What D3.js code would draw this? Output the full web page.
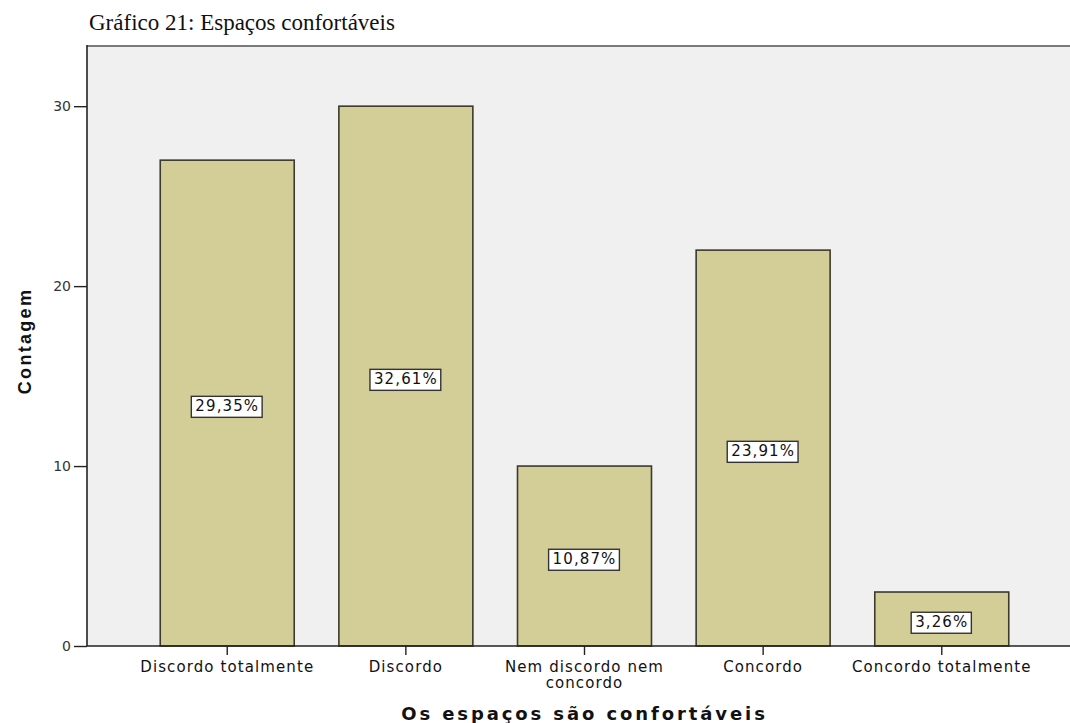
<!DOCTYPE html>
<html>
<head>
<meta charset="utf-8">
<script src="https://cdn.jsdelivr.net/npm/d3@7"></script>
<style>
  html, body { margin: 0; padding: 0; background: #ffffff; }
  svg { display: block; }
</style>
</head>
<body>
<svg id="chart" width="1070" height="723"></svg>
<script>
// Survey answers and their counts
const categories = ["Discordo totalmente", "Discordo", "Nem discordo nem concordo", "Concordo", "Concordo totalmente"];
const counts = [27, 30, 10, 22, 3];
const percentLabels = ["29,35%", "32,61%", "10,87%", "23,91%", "3,26%"];
const yTicks = [0, 10, 20, 30];

const svg = d3.select("#chart");
const plot = { left: 87, top: 45, right: 1082, bottom: 646 };

const x = d3.scaleBand()
  .domain(categories)
  .range([plot.left, plot.right])
  .paddingInner(0.25)
  .paddingOuter(0.41);

const y = d3.scaleLinear()
  .domain([0, 33.4])
  .range([plot.bottom, plot.top]);

// plot background
svg.append("rect")
  .attr("x", plot.left).attr("y", plot.top)
  .attr("width", plot.right - plot.left).attr("height", plot.bottom - plot.top)
  .attr("fill", "#f0f0f0");

// top frame line
svg.append("line")
  .attr("x1", plot.left).attr("x2", plot.right)
  .attr("y1", plot.top + 1).attr("y2", plot.top + 1)
  .attr("stroke", "#7a7a7a").attr("stroke-width", 2);

// bars
svg.append("g").selectAll("rect")
  .data(counts)
  .join("rect")
  .attr("x", (d, i) => x(categories[i]))
  .attr("y", d => y(d))
  .attr("width", x.bandwidth())
  .attr("height", d => y(0) - y(d))
  .attr("fill", "#d3ce98")
  .attr("stroke", "#3c3a2c")
  .attr("stroke-width", 1.6);

// percentage labels, centred half way up each bar
const lab = svg.append("g").selectAll("g")
  .data(percentLabels)
  .join("g")
  .attr("transform", (d, i) => `translate(${x(categories[i]) + x.bandwidth() / 2},${y(counts[i] / 2) + 3})`);

lab.append("text")
  .attr("text-anchor", "middle")
  .attr("dy", "0.35em")
  .attr("font-family", "'DejaVu Sans', sans-serif")
  .attr("font-size", 15)
  .attr("letter-spacing", 1.1)
  .attr("fill", "#111")
  .text(d => d)
  .each(function () {
    const b = this.getBBox();
    d3.select(this.parentNode).insert("rect", "text")
      .attr("x", b.x - 4).attr("y", b.y - 1)
      .attr("width", b.width + 7).attr("height", b.height + 3)
      .attr("fill", "#ffffff")
      .attr("stroke", "#333")
      .attr("stroke-width", 1.4);
  });

// y axis
const yAxis = svg.append("g")
  .attr("transform", `translate(${plot.left},0)`)
  .call(d3.axisLeft(y).tickValues(yTicks).tickSize(13).tickPadding(3).tickFormat(d3.format("d")));
yAxis.select(".domain").attr("d", `M0,${plot.top}V${plot.bottom}`).attr("stroke", "#222").attr("stroke-width", 1.6);
yAxis.selectAll(".tick line").attr("stroke", "#222").attr("stroke-width", 1.4);
yAxis.selectAll(".tick text")
  .attr("font-family", "'DejaVu Sans', sans-serif")
  .attr("font-size", 14)
  .attr("fill", "#333");

// x axis
const xAxis = svg.append("g")
  .attr("transform", `translate(0,${plot.bottom})`)
  .call(d3.axisBottom(x).tickSize(9).tickPadding(6));
xAxis.select(".domain").attr("d", `M${plot.left},0H${plot.right}`).attr("stroke", "#222").attr("stroke-width", 1.6);
xAxis.selectAll(".tick line").attr("stroke", "#222").attr("stroke-width", 1.4);
xAxis.selectAll(".tick text")
  .attr("font-family", "'DejaVu Sans', sans-serif")
  .attr("font-size", 15)
  .attr("letter-spacing", 1.1)
  .attr("fill", "#111")
  .each(function (d) {
    const t = d3.select(this);
    if (d === "Nem discordo nem concordo") {
      t.text(null);
      t.append("tspan").attr("x", 0).attr("dy", "0.71em").text("Nem discordo nem");
      t.append("tspan").attr("x", 0).attr("dy", "1.1em").text("concordo");
      t.attr("dy", null);
    }
  });

// axis titles
svg.append("text")
  .attr("transform", `translate(31,341) rotate(-90)`)
  .attr("text-anchor", "middle")
  .attr("font-family", "'Liberation Sans', Arial, sans-serif")
  .attr("font-weight", "bold")
  .attr("font-size", 18)
  .attr("letter-spacing", 2.3)
  .attr("fill", "#111")
  .text("Contagem");

svg.append("text")
  .attr("x", (plot.left + plot.right) / 2)
  .attr("y", 720)
  .attr("text-anchor", "middle")
  .attr("font-family", "'DejaVu Sans', sans-serif")
  .attr("font-weight", "bold")
  .attr("font-size", 18)
  .attr("letter-spacing", 2.9)
  .attr("fill", "#111")
  .text("Os espaços são confortáveis");

// chart title
svg.append("text")
  .attr("x", 89)
  .attr("y", 30)
  .attr("font-family", "'Liberation Serif', 'Times New Roman', serif")
  .attr("font-size", 23)
  .attr("fill", "#111")
  .text("Gráfico 21: Espaços confortáveis");
</script>
</body>
</html>
